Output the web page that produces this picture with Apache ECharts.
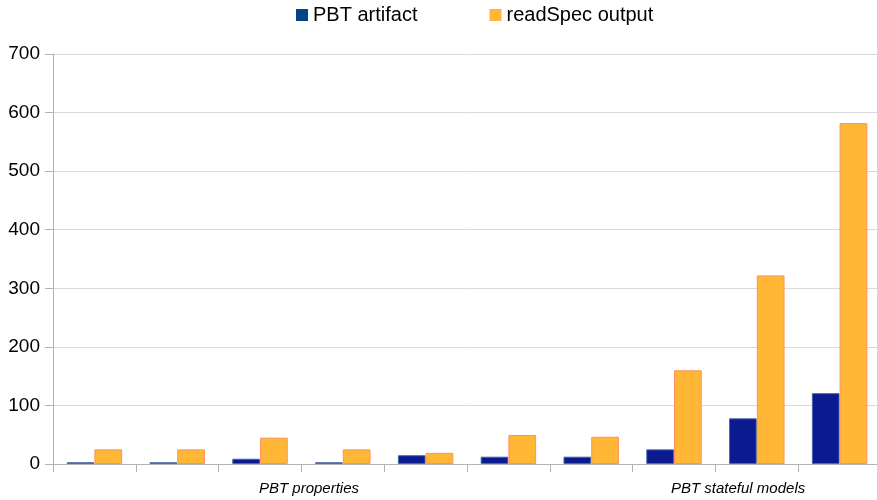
<!DOCTYPE html>
<html>
<head>
<meta charset="utf-8">
<script src="https://cdn.jsdelivr.net/npm/echarts@6/dist/echarts.min.js"></script>
<style>
  html, body { margin: 0; padding: 0; background: #fff; }
  #chart { width: 877px; height: 500px; }
</style>
</head>
<body>
<div id="chart"></div>
<script>
// categories (no per-bar labels in the original, groups are labelled below)
const categories = ["1", "2", "3", "4", "5", "6", "7", "8", "9", "10"];
const pbtArtifact = [3, 3, 9, 3, 15, 12.5, 12.5, 25, 78, 121];
const readSpecOutput = [25, 25, 45, 25, 19, 49.5, 46.5, 160, 322, 582];
const groupLabels = ["PBT properties", "PBT stateful models"];

const chart = echarts.init(document.getElementById("chart"));

chart.setOption({
  animation: false,
  textStyle: { fontFamily: "Liberation Sans" },
  legend: {
    left: 296,
    top: 5,
    padding: 0,
    icon: "rect",
    itemWidth: 12,
    itemHeight: 12,
    itemGap: 72,
    itemTextGap: 7,
    textStyle: { fontSize: 20, color: "#000", fontFamily: "Liberation Sans" },
    data: [
      { name: "PBT artifact", itemStyle: { color: "#004586", borderWidth: 0 } },
      { name: "readSpec output", itemStyle: { color: "#ffb735", borderWidth: 0 } }
    ]
  },
  // plot area runs a few pixels past the right edge in the original
  grid: { left: 53, top: 54, bottom: 36, width: 828, outerBoundsMode: "none" },
  xAxis: {
    type: "category",
    data: categories,
    axisLine: { lineStyle: { color: "#b3b3b3" } },
    axisTick: { show: true, length: 8, lineStyle: { color: "#b3b3b3" } },
    axisLabel: { show: false }
  },
  yAxis: {
    type: "value",
    min: 0,
    max: 700,
    interval: 100,
    axisLine: { show: true, lineStyle: { color: "#b3b3b3" } },
    axisTick: { show: true, length: 8, lineStyle: { color: "#b3b3b3" } },
    axisLabel: { fontSize: 19, color: "#000", margin: 13 },
    splitLine: { lineStyle: { color: "#d9d9d9" } }
  },
  graphic: [
    {
      type: "text",
      left: 259,
      top: 481,
      style: { text: groupLabels[0], font: "italic 15px Liberation Sans", fill: "#000" }
    },
    {
      type: "text",
      left: 671,
      top: 481,
      style: { text: groupLabels[1], font: "italic 15px Liberation Sans", fill: "#000" }
    }
  ],
  series: [
    {
      name: "PBT artifact",
      type: "bar",
      data: pbtArtifact,
      barGap: "0%",
      barCategoryGap: "33%",
      itemStyle: { color: "#0b1a8e", borderColor: "#4a6aa8", borderWidth: 1 },
      emphasis: { disabled: true }
    },
    {
      name: "readSpec output",
      type: "bar",
      data: readSpecOutput,
      barGap: "0%",
      barCategoryGap: "33%",
      itemStyle: { color: "#ffb735", borderColor: "#ff9060", borderWidth: 1 },
      emphasis: { disabled: true }
    }
  ]
});
</script>
</body>
</html>
